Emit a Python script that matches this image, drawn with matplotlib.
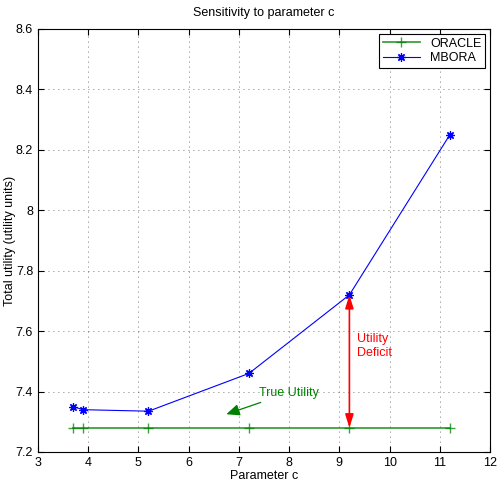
import matplotlib
matplotlib.use("Agg")
import matplotlib.pyplot as plt

plt.rcParams['font.family'] = ['Liberation Sans', 'DejaVu Sans']

C_VALUES = [3.7, 3.9, 5.2, 7.2, 9.2, 11.2]
ORACLE = [7.28, 7.28, 7.28, 7.28, 7.28, 7.28]
MBORA = [7.35, 7.34, 7.335, 7.46, 7.72, 8.25]

FS = 9

fig = plt.figure(figsize=(4.98, 4.88), dpi=100)
ax = fig.add_axes([0.0763, 0.0738, 0.9077, 0.8668])

ax.plot(C_VALUES, ORACLE, '-+', color='green', markeredgecolor='green',
        lw=1.3, ms=7, label='ORACLE', alpha=0.75)
ax.plot(C_VALUES, MBORA, '-', marker=(8, 2, 0), color='blue', lw=0.8,
        ms=6, mew=0.9, label='MBORA')

ax.set_xlim(3, 12)
ax.set_ylim(7.2, 8.6)
ax.set_xticks(range(3, 13))
ax.set_yticks([7.2, 7.4, 7.6, 7.8, 8.0, 8.2, 8.4, 8.6])
ax.set_yticklabels(['7.2', '7.4', '7.6', '7.8', '8', '8.2', '8.4', '8.6'])
ax.tick_params(direction='in', labelsize=FS, top=True, right=True, length=4)
ax.grid(True, ls=(0, (1, 5)), color='black', lw=0.6, alpha=0.7)
for s in ax.spines.values():
    s.set_linewidth(0.8)

ax.set_xlabel('Parameter c', fontsize=FS, labelpad=1)
ax.set_ylabel('Total utility (utility units)', fontsize=FS, labelpad=0)
ax.set_title('Sensitivity to parameter c', fontsize=FS, pad=9)

# utility deficit arrow
ax.annotate('', xy=(C_VALUES[4], ORACLE[4]), xytext=(C_VALUES[4], MBORA[4]),
            arrowprops=dict(arrowstyle='<|-|>,head_length=0.8,head_width=0.25',
                            color='red', lw=1.2, mutation_scale=10,
                            shrinkA=0, shrinkB=0))
ax.text(9.35, 7.55, 'Utility\nDeficit', color='red', fontsize=FS, va='center')

ax.annotate('True Utility', xy=(6.75, 7.325), xytext=(7.4, 7.396),
            color='green', fontsize=FS, va='center',
            arrowprops=dict(arrowstyle='-|>,head_length=0.8,head_width=0.35',
                            color='green', lw=0.9, mutation_scale=10,
                            shrinkA=2, shrinkB=0))

leg = ax.legend(loc='upper right', fontsize=FS, fancybox=False, framealpha=1,
                edgecolor='black', borderaxespad=0.4, handlelength=3,
                borderpad=0.3, labelspacing=0.2)
leg.get_frame().set_linewidth(0.8)

fig.savefig('out.png', dpi=100)
